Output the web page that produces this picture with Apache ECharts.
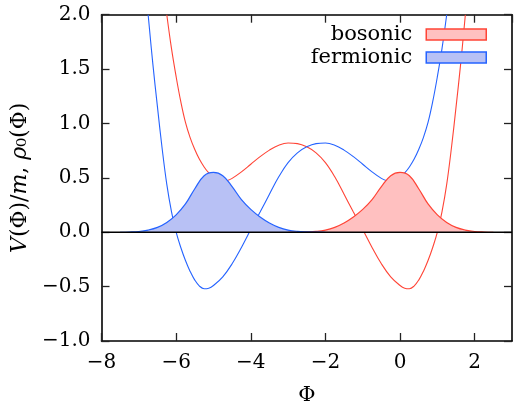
<!DOCTYPE html>
<html><head><meta charset="utf-8">
<script src="https://cdn.jsdelivr.net/npm/echarts@6/dist/echarts.min.js"></script>
<style>html,body{margin:0;padding:0;background:#fff}#c{width:515px;height:407px}</style>
</head><body><div id="c"></div>
<script>
// bosonic potential V(Phi)/m
const phiBos = [-6.25,-6.125,-6.0,-5.875,-5.75,-5.625,-5.5,-5.375,-5.25,-5.125,-5.0,-4.875,-4.75,-4.625,-4.5,-4.25,-4.0,-3.75,-3.5,-3.25,-3.0,-2.75,-2.5,-2.25,-2.0,-1.75,-1.5,-1.25,-1.0,-0.75,-0.5,-0.25,0.0,0.125,0.25,0.375,0.5,0.625,0.75,0.875,1.0,1.125,1.25,1.375,1.5,1.625,1.75];
const vBos   = [2.00,1.69,1.43,1.20,1.01,0.87,0.76,0.67,0.60,0.545,0.505,0.48,0.47,0.475,0.495,0.555,0.625,0.695,0.755,0.80,0.82,0.815,0.785,0.73,0.64,0.51,0.35,0.185,0.025,-0.14,-0.29,-0.41,-0.49,-0.515,-0.52,-0.495,-0.44,-0.36,-0.26,-0.14,0.00,0.19,0.44,0.77,1.15,1.55,2.00];
// fermionic potential V(Phi)/m
const phiFer = [-6.75,-6.625,-6.5,-6.375,-6.25,-6.125,-6.0,-5.875,-5.75,-5.625,-5.5,-5.375,-5.25,-5.125,-5.0,-4.75,-4.5,-4.25,-4.0,-3.75,-3.5,-3.25,-3.0,-2.75,-2.5,-2.25,-2.0,-1.75,-1.5,-1.25,-1.0,-0.75,-0.5,-0.375,-0.25,-0.125,0.0,0.125,0.25,0.375,0.5,0.625,0.75,0.875,1.0,1.125,1.25];
const vFer   = [2.00,1.55,1.15,0.77,0.44,0.19,0.00,-0.14,-0.26,-0.36,-0.44,-0.495,-0.52,-0.515,-0.49,-0.41,-0.29,-0.14,0.025,0.185,0.35,0.51,0.64,0.73,0.785,0.815,0.82,0.80,0.755,0.695,0.625,0.555,0.495,0.475,0.47,0.48,0.505,0.545,0.60,0.67,0.76,0.87,1.01,1.20,1.43,1.69,2.00];
// ground state densities rho_0(Phi)
const phiRhoBos = [-3.0,-2.75,-2.5,-2.25,-2.0,-1.75,-1.5,-1.25,-1.0,-0.75,-0.5,-0.25,0.0,0.25,0.5,0.75,1.0,1.25,1.5,1.75,2.0,2.25,2.5];
const rhoBos    = [0.0,0.001,0.003,0.008,0.02,0.045,0.085,0.14,0.21,0.30,0.42,0.52,0.55,0.52,0.40,0.26,0.16,0.09,0.045,0.02,0.007,0.002,0.0];
const phiRhoFer = [-7.5,-7.25,-7.0,-6.75,-6.5,-6.25,-6.0,-5.75,-5.5,-5.25,-5.0,-4.75,-4.5,-4.25,-4.0,-3.75,-3.5,-3.25,-3.0,-2.75,-2.5,-2.25,-2.0];
const rhoFer    = [0.0,0.002,0.007,0.02,0.045,0.09,0.16,0.26,0.40,0.52,0.55,0.52,0.42,0.30,0.21,0.14,0.085,0.045,0.02,0.008,0.003,0.001,0.0];
const xRange = [-8, 3];
const yRange = [-1, 2];
const legendNames = ['bosonic', 'fermionic'];

const RED = '#ff4436', BLUE = '#2563ff', PINK = '#ffc0c0', LBLUE = '#b8c1f5';
const FONT = 'DejaVu Serif';
const zip = (xs, ys) => xs.map((x, i) => [x, ys[i]]);
const minus = s => String(s).replace('-', '\u2212');

const chart = echarts.init(document.getElementById('c'), null, {renderer: 'canvas'});
const axisCommon = {
  type: 'value',
  axisLine: {show: true, onZero: false, lineStyle: {color: '#000', width: 1.6}},
  axisTick: {show: true, inside: true, length: 8, lineStyle: {color: '#222', width: 1.3}},
  splitLine: {show: false}
};
chart.setOption({
  animation: false,
  textStyle: {fontFamily: FONT},
  grid: {left: 101.5, right: 3, top: 14.7, bottom: 66, containLabel: false, outerBoundsMode: 'none'},
  legend: {
    data: [
      {name: legendNames[0], icon: 'rect', itemStyle: {color: PINK, borderColor: RED, borderWidth: 1.5}},
      {name: legendNames[1], icon: 'rect', itemStyle: {color: LBLUE, borderColor: BLUE, borderWidth: 1.5}}
    ],
    orient: 'vertical', align: 'right', right: 28, top: 24, padding: 0,
    itemWidth: 60, itemHeight: 11, itemGap: 2,
    textStyle: {fontFamily: FONT, fontSize: 21, color: '#000', lineHeight: 20, padding: [0, 9, 0, 0]}
  },
  xAxis: [
    Object.assign({}, axisCommon, {
      position: 'bottom', min: xRange[0], max: xRange[1], interval: 2,
      name: 'Φ', nameLocation: 'middle', nameGap: 44,
      nameTextStyle: {fontFamily: FONT, fontSize: 21, color: '#000'},
      axisLabel: {fontFamily: FONT, fontSize: 20, color: '#000', margin: 12, showMaxLabel: false,
        formatter: v => v === xRange[1] ? '' : minus(v)}
    }),
    Object.assign({}, axisCommon, {
      position: 'top', min: xRange[0], max: xRange[1], interval: 2, axisLabel: {show: false}
    })
  ],
  yAxis: [
    Object.assign({}, axisCommon, {
      position: 'left', min: yRange[0], max: yRange[1], interval: 0.5,
      name: '{i|V}(Φ)/{i|m}, {i|ρ}₀(Φ)', nameLocation: 'middle', nameGap: 55, nameRotate: 90,
      nameTextStyle: {fontFamily: FONT, fontSize: 22, color: '#000',
        rich: {i: {fontFamily: FONT, fontSize: 22, fontStyle: 'italic', color: '#000'}}},
      axisLabel: {fontFamily: FONT, fontSize: 20, color: '#000', margin: 11,
        formatter: v => minus(v.toFixed(1))}
    }),
    Object.assign({}, axisCommon, {
      position: 'right', min: yRange[0], max: yRange[1], interval: 0.5, axisLabel: {show: false}
    })
  ],
  series: [
    {name: 'Vb', type: 'line', data: zip(phiBos, vBos), smooth: 0.4, showSymbol: false, z: 2,
      lineStyle: {color: RED, width: 1.1}, itemStyle: {color: RED}},
    {name: 'Vf', type: 'line', data: zip(phiFer, vFer), smooth: 0.4, showSymbol: false, z: 2,
      lineStyle: {color: BLUE, width: 1.1}, itemStyle: {color: BLUE}},
    {name: legendNames[0], type: 'line', data: zip(phiRhoBos, rhoBos), smooth: 0.4, showSymbol: false, z: 3,
      lineStyle: {color: RED, width: 1.2}, itemStyle: {color: RED}, areaStyle: {color: PINK, opacity: 1}},
    {name: legendNames[1], type: 'line', data: zip(phiRhoFer, rhoFer), smooth: 0.4, showSymbol: false, z: 3,
      lineStyle: {color: BLUE, width: 1.2}, itemStyle: {color: BLUE}, areaStyle: {color: LBLUE, opacity: 1}},
    {name: 'zero', type: 'line', data: [[xRange[0], 0], [xRange[1], 0]], showSymbol: false, z: 5, silent: true,
      lineStyle: {color: '#000', width: 1.3}}
  ]
});
</script>
</body></html>
